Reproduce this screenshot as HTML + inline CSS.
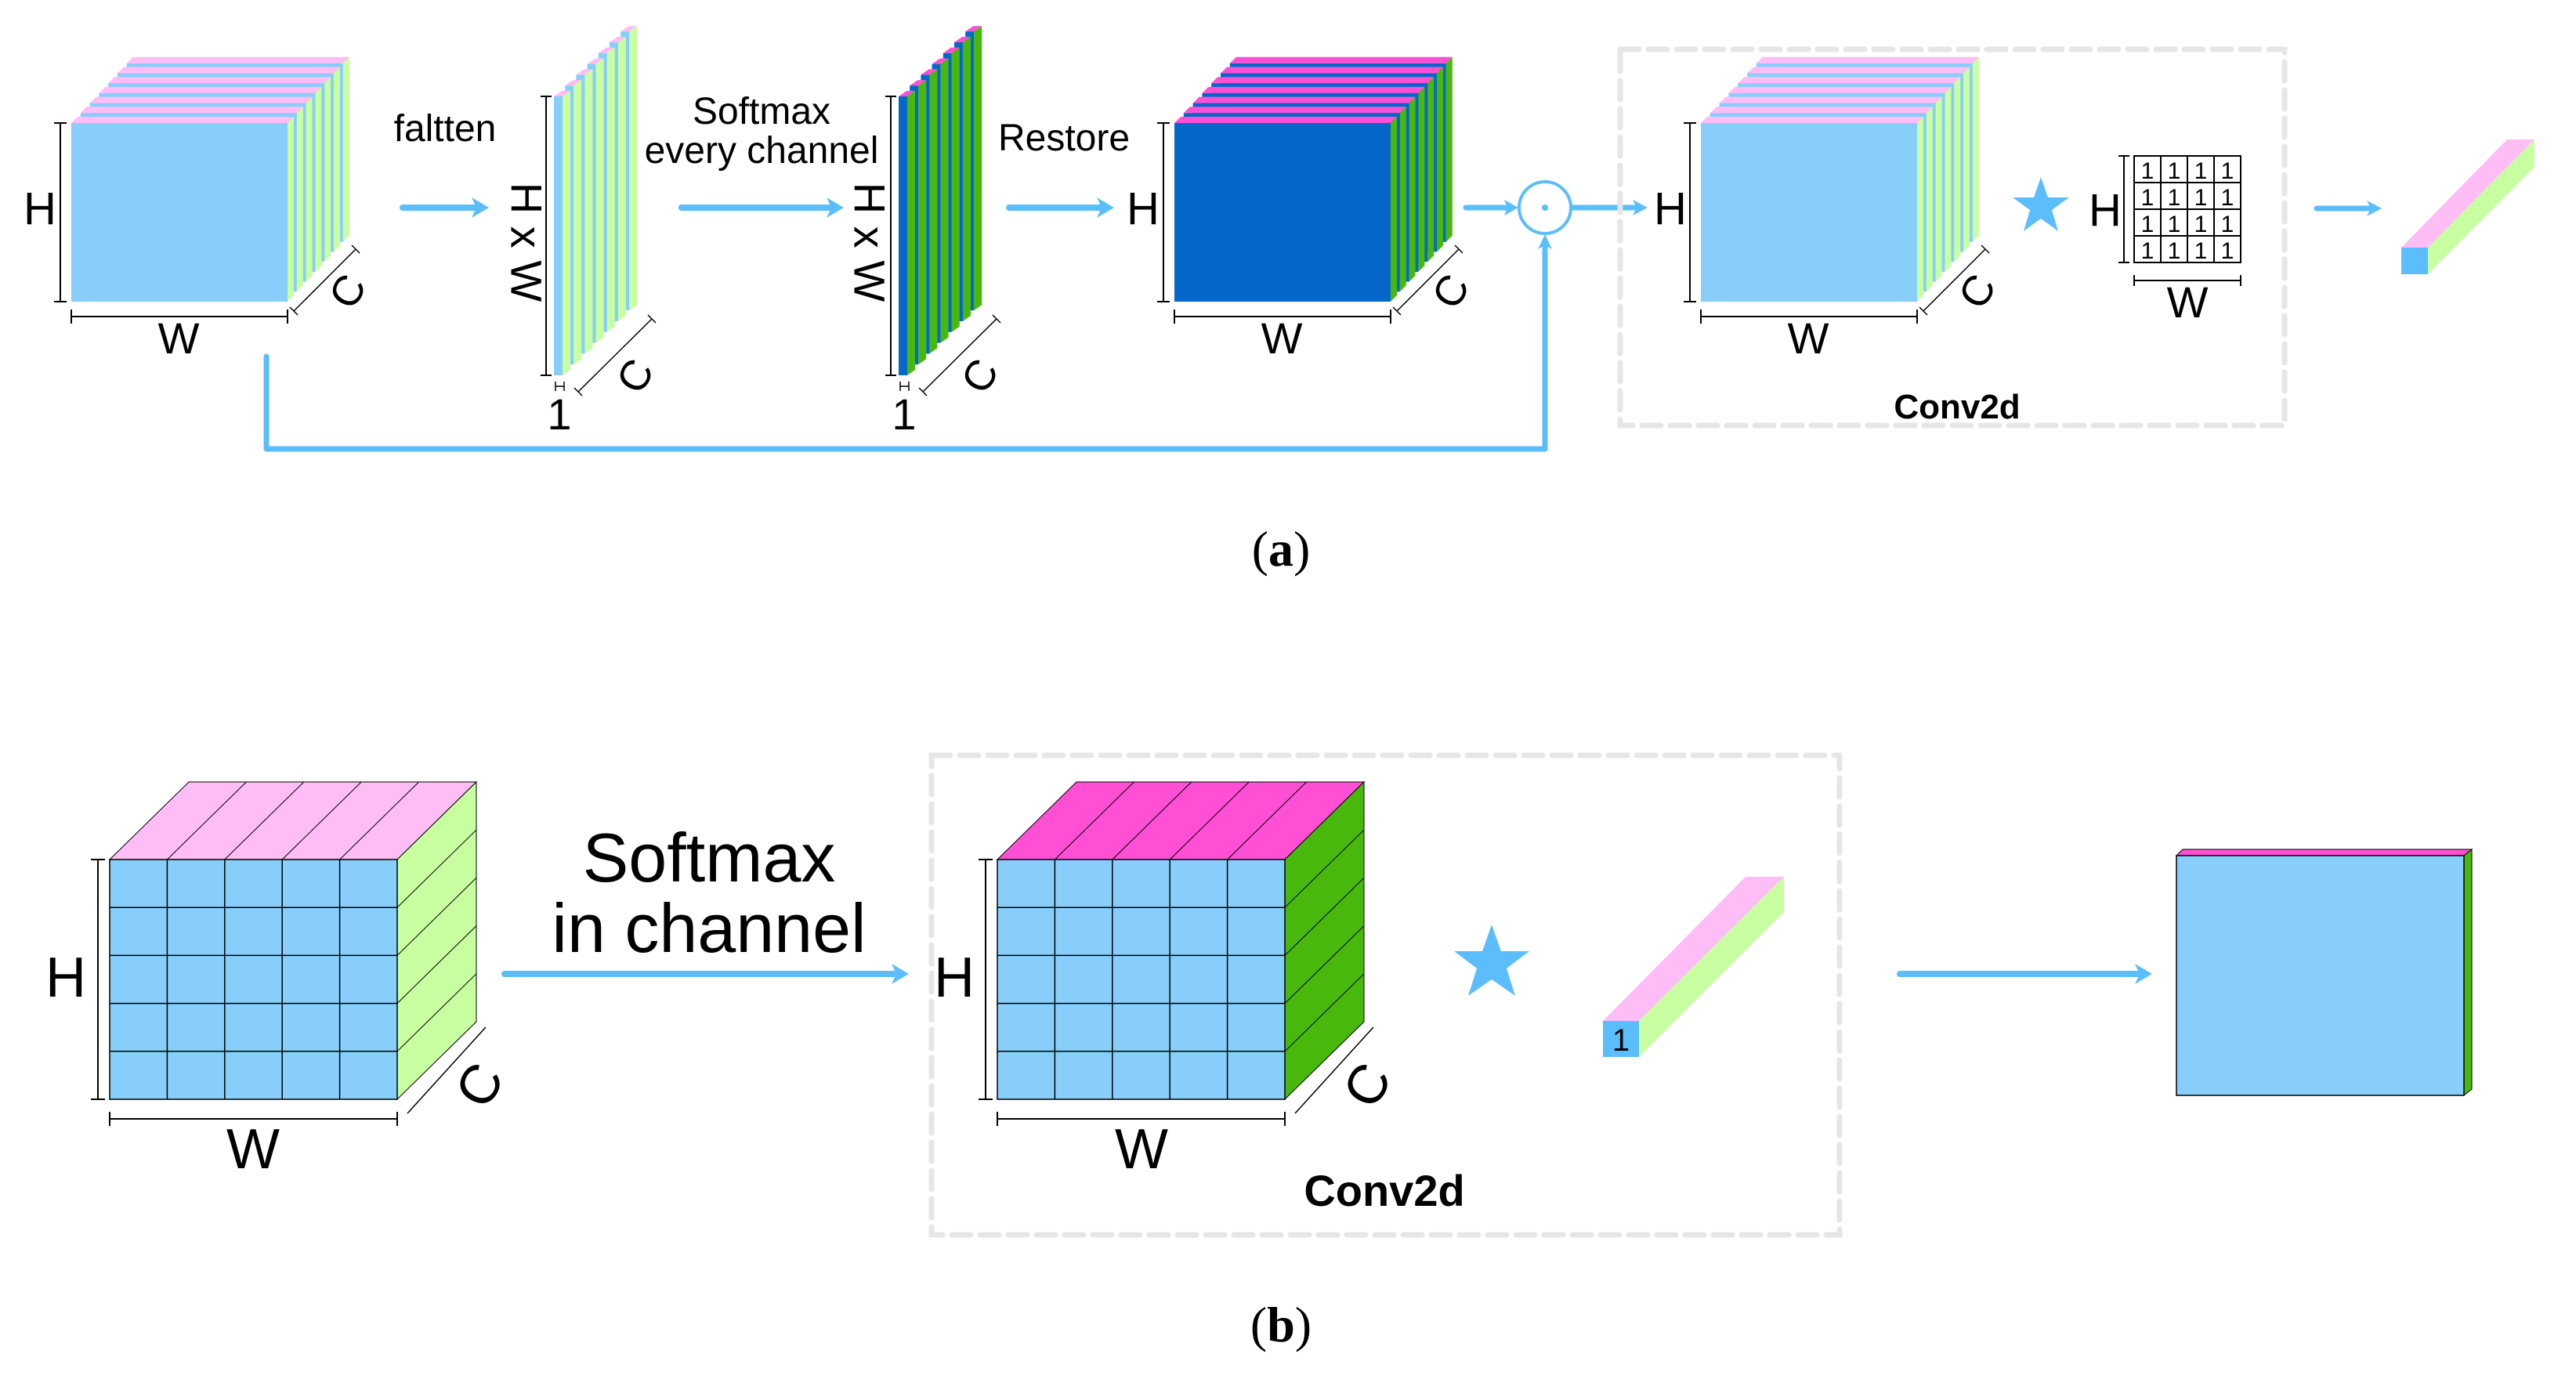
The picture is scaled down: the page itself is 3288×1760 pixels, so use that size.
<!DOCTYPE html>
<html><head><meta charset="utf-8"><style>
html,body{margin:0;padding:0;background:#fff;}
svg{display:block;}
text{font-family:"Liberation Sans",sans-serif;fill:#000;}
</style></head><body>
<svg width="3288" height="1760" viewBox="0 0 3288 1760" xmlns="http://www.w3.org/2000/svg">
<defs>
  <g id="slL">
    <polygon points="0,0 276,0 284,-8 8,-8" fill="#FFBDF5"/>
    <polygon points="276,0 284,-8 284,220 276,228" fill="#C8FFA0"/>
    <rect x="0" y="0" width="276" height="228" fill="#87CEFA"/>
  </g>
  <g id="slD">
    <polygon points="0,0 276,0 284,-8 8,-8" fill="#FF4FD4"/>
    <polygon points="276,0 284,-8 284,220 276,228" fill="#48B90C"/>
    <rect x="0" y="0" width="276" height="228" fill="#0568C8"/>
  </g>
  <g id="stL">
    <polygon points="0,0 11,0 21,-7 10,-7" fill="#FFBDF5"/>
    <polygon points="11,0 21,-7 21,349 11,356" fill="#C8FFA0"/>
    <rect x="0" y="0" width="11" height="356" fill="#87CEFA"/>
  </g>
  <g id="stD">
    <polygon points="0,0 11,0 21,-7 10,-7" fill="#FF4FD4"/>
    <polygon points="11,0 21,-7 21,349 11,356" fill="#48B90C"/>
    <rect x="0" y="0" width="11" height="356" fill="#0568C8"/>
  </g>
  <g id="cubeL">
    <use href="#slL" transform="translate(70.8,-76.2)"/>
    <use href="#slL" transform="translate(59,-63.5)"/>
    <use href="#slL" transform="translate(47.2,-50.8)"/>
    <use href="#slL" transform="translate(35.4,-38.1)"/>
    <use href="#slL" transform="translate(23.6,-25.4)"/>
    <use href="#slL" transform="translate(11.8,-12.7)"/>
    <use href="#slL"/>
  </g>
  <g id="cubeD">
    <use href="#slD" transform="translate(70.8,-76.2)"/>
    <use href="#slD" transform="translate(59,-63.5)"/>
    <use href="#slD" transform="translate(47.2,-50.8)"/>
    <use href="#slD" transform="translate(35.4,-38.1)"/>
    <use href="#slD" transform="translate(23.6,-25.4)"/>
    <use href="#slD" transform="translate(11.8,-12.7)"/>
    <use href="#slD"/>
  </g>
  <g id="stackL">
    <use href="#stL" transform="translate(85.2,-82.8)"/>
    <use href="#stL" transform="translate(71,-69)"/>
    <use href="#stL" transform="translate(56.8,-55.2)"/>
    <use href="#stL" transform="translate(42.6,-41.4)"/>
    <use href="#stL" transform="translate(28.4,-27.6)"/>
    <use href="#stL" transform="translate(14.2,-13.8)"/>
    <use href="#stL"/>
  </g>
  <g id="stackD">
    <use href="#stD" transform="translate(85.2,-82.8)"/>
    <use href="#stD" transform="translate(71,-69)"/>
    <use href="#stD" transform="translate(56.8,-55.2)"/>
    <use href="#stD" transform="translate(42.6,-41.4)"/>
    <use href="#stD" transform="translate(28.4,-27.6)"/>
    <use href="#stD" transform="translate(14.2,-13.8)"/>
    <use href="#stD"/>
  </g>
  <!-- dims for cube (relative to front origin 0,0) -->
  <g id="cubeDims" stroke="#000" stroke-width="2" fill="none">
    <line x1="-14" y1="0" x2="-14" y2="228"/>
    <line x1="-22" y1="0" x2="-6" y2="0"/>
    <line x1="-22" y1="228" x2="-6" y2="228"/>
    <line x1="0" y1="247" x2="276" y2="247"/>
    <line x1="0" y1="238" x2="0" y2="256"/>
    <line x1="276" y1="238" x2="276" y2="256"/>
    <line x1="284" y1="240" x2="363" y2="161" stroke-width="1.5"/>
    <line x1="279" y1="235" x2="289" y2="245" stroke-width="1.5"/>
    <line x1="358" y1="156" x2="368" y2="166" stroke-width="1.5"/>
  </g>
  <g id="stackDims" stroke="#000" stroke-width="2" fill="none">
    <line x1="-10" y1="0" x2="-10" y2="356"/>
    <line x1="-17" y1="0" x2="-3" y2="0"/>
    <line x1="-17" y1="356" x2="-3" y2="356"/>
    <line x1="2" y1="370" x2="13" y2="370" stroke-width="1.5"/>
    <line x1="2" y1="364" x2="2" y2="376" stroke-width="1.5"/>
    <line x1="13" y1="364" x2="13" y2="376" stroke-width="1.5"/>
    <line x1="31" y1="377" x2="125" y2="284" stroke-width="1.5"/>
    <line x1="26" y1="372" x2="36" y2="382" stroke-width="1.5"/>
    <line x1="120" y1="279" x2="130" y2="289" stroke-width="1.5"/>
  </g>
</defs>

<!-- ===== (a) ===== -->
<use href="#cubeL" transform="translate(91,157)"/>
<use href="#cubeDims" transform="translate(91,157)"/>
<text x="51" y="286" font-size="58" text-anchor="middle">H</text>
<text x="228" y="451" font-size="56" text-anchor="middle">W</text>
<text transform="translate(444,372) rotate(-60)" font-size="54" text-anchor="middle" dominant-baseline="central">C</text>

<!-- arrow 1 -->
<g fill="#5BBEFA" stroke="none">
  <line x1="514" y1="265" x2="610" y2="265" stroke="#5BBEFA" stroke-width="8" stroke-linecap="round"/>
  <polygon points="624,265 602,252 608,265 602,278"/>
</g>
<text x="568" y="180" font-size="48" text-anchor="middle">faltten</text>

<use href="#stackL" transform="translate(707,123)"/>
<use href="#stackDims" transform="translate(707,123)"/>
<text transform="translate(672,309) rotate(90)" font-size="56" text-anchor="middle" dominant-baseline="central">H x W</text>
<text x="714" y="548" font-size="56" text-anchor="middle">1</text>
<text transform="translate(811,480) rotate(-60)" font-size="54" text-anchor="middle" dominant-baseline="central">C</text>

<!-- arrow 2 -->
<line x1="870" y1="265" x2="1063" y2="265" stroke="#5BBEFA" stroke-width="8" stroke-linecap="round"/>
<polygon points="1077,265 1055,252 1061,265 1055,278" fill="#5BBEFA"/>
<text x="972" y="158" font-size="48" text-anchor="middle">Softmax</text>
<text x="972" y="208" font-size="48" text-anchor="middle">every channel</text>

<use href="#stackD" transform="translate(1147,123)"/>
<use href="#stackDims" transform="translate(1147,123)"/>
<text transform="translate(1110,309) rotate(90)" font-size="56" text-anchor="middle" dominant-baseline="central">H x W</text>
<text x="1154" y="548" font-size="56" text-anchor="middle">1</text>
<text transform="translate(1251,480) rotate(-60)" font-size="54" text-anchor="middle" dominant-baseline="central">C</text>

<!-- arrow 3 -->
<line x1="1288" y1="265" x2="1408" y2="265" stroke="#5BBEFA" stroke-width="8" stroke-linecap="round"/>
<polygon points="1422,265 1400,252 1406,265 1400,278" fill="#5BBEFA"/>
<text x="1358" y="192" font-size="48" text-anchor="middle">Restore</text>

<use href="#cubeD" transform="translate(1499,157)"/>
<use href="#cubeDims" transform="translate(1499,157)"/>
<text x="1459" y="286" font-size="58" text-anchor="middle">H</text>
<text x="1636" y="451" font-size="56" text-anchor="middle">W</text>
<text transform="translate(1852,372) rotate(-60)" font-size="54" text-anchor="middle" dominant-baseline="central">C</text>

<!-- circle and arrows -->
<line x1="1871" y1="265" x2="1925" y2="265" stroke="#5BBEFA" stroke-width="7" stroke-linecap="round"/>
<polygon points="1938,265 1920,255 1924,265 1920,275" fill="#5BBEFA"/>
<circle cx="1972" cy="265" r="33" fill="none" stroke="#5BBEFA" stroke-width="4"/>
<circle cx="1972" cy="265" r="4" fill="#5BBEFA"/>
<line x1="2006" y1="265" x2="2090" y2="265" stroke="#5BBEFA" stroke-width="7"/>
<polygon points="2103,265 2084,255 2089,265 2084,275" fill="#5BBEFA"/>
<polyline points="340,455 340,573 1972,573 1972,312" fill="none" stroke="#5BBEFA" stroke-width="7" stroke-linejoin="round" stroke-linecap="round"/>
<polygon points="1972,299 1963,318 1972,313 1981,318" fill="#5BBEFA"/>

<!-- dashed box a -->
<rect x="2068" y="63" width="848" height="480" fill="none" stroke="#E6E6E6" stroke-width="7" stroke-dasharray="24 12" stroke-linecap="round"/>
<use href="#cubeL" transform="translate(2171,157)"/>
<use href="#cubeDims" transform="translate(2171,157)"/>
<text x="2132" y="286" font-size="58" text-anchor="middle">H</text>
<text x="2308" y="451" font-size="56" text-anchor="middle">W</text>
<text transform="translate(2524,372) rotate(-60)" font-size="54" text-anchor="middle" dominant-baseline="central">C</text>

<!-- star a -->
<polygon points="2605,226 2614,252 2641,252 2619,268 2627,295 2605,279 2583,295 2591,268 2569,252 2596,252" fill="#5BBEFA"/>

<!-- kernel grid -->
<text x="2687" y="288" font-size="58" text-anchor="middle">H</text>
<g stroke="#000" stroke-width="2" fill="none">
  <line x1="2711" y1="199" x2="2711" y2="335"/>
  <line x1="2704" y1="199" x2="2718" y2="199"/>
  <line x1="2704" y1="335" x2="2718" y2="335"/>
  <rect x="2724" y="199" width="136" height="136"/>
  <line x1="2758" y1="199" x2="2758" y2="335"/>
  <line x1="2792" y1="199" x2="2792" y2="335"/>
  <line x1="2826" y1="199" x2="2826" y2="335"/>
  <line x1="2724" y1="233" x2="2860" y2="233"/>
  <line x1="2724" y1="267" x2="2860" y2="267"/>
  <line x1="2724" y1="301" x2="2860" y2="301"/>
  <line x1="2724" y1="358" x2="2860" y2="358"/>
  <line x1="2724" y1="351" x2="2724" y2="365"/>
  <line x1="2860" y1="351" x2="2860" y2="365"/>
</g>
<g font-size="30" text-anchor="middle">
  <text x="2741" y="228">1</text><text x="2775" y="228">1</text><text x="2809" y="228">1</text><text x="2843" y="228">1</text>
  <text x="2741" y="262">1</text><text x="2775" y="262">1</text><text x="2809" y="262">1</text><text x="2843" y="262">1</text>
  <text x="2741" y="296">1</text><text x="2775" y="296">1</text><text x="2809" y="296">1</text><text x="2843" y="296">1</text>
  <text x="2741" y="330">1</text><text x="2775" y="330">1</text><text x="2809" y="330">1</text><text x="2843" y="330">1</text>
</g>
<text x="2792" y="405" font-size="56" text-anchor="middle">W</text>
<text x="2498" y="534" font-size="44" font-weight="bold" text-anchor="middle">Conv2d</text>

<!-- arrow a last -->
<line x1="2957" y1="266" x2="3027" y2="266" stroke="#5BBEFA" stroke-width="7" stroke-linecap="round"/>
<polygon points="3040,266 3021,256 3026,266 3021,276" fill="#5BBEFA"/>
<!-- bar a -->
<polygon points="3065,316 3099,316 3235,178 3200,178" fill="#FFBDF5"/>
<polygon points="3099,316 3235,178 3235,213 3099,350" fill="#C8FFA0"/>
<rect x="3065" y="316" width="34" height="34" fill="#5BBEFA"/>

<text x="1635" y="722" font-size="64" text-anchor="middle" style="font-family:'Liberation Serif',serif">(<tspan font-weight="bold">a</tspan>)</text>

<!-- ===== (b) ===== -->
<!-- cube b1 -->
<polygon points="140,1097 507,1097 608,998 241,998" fill="#FFBDF5" stroke="#000" stroke-width="1"/>
<polygon points="507,1097 608,998 608,1304 507,1403" fill="#C8FFA0" stroke="#000" stroke-width="1"/>
<rect x="140" y="1097" width="367" height="306" fill="#87CEFA" stroke="#000" stroke-width="1.5"/>
<g stroke="#000" stroke-width="1.5">
  <line x1="213.4" y1="1097" x2="213.4" y2="1403"/>
  <line x1="286.8" y1="1097" x2="286.8" y2="1403"/>
  <line x1="360.2" y1="1097" x2="360.2" y2="1403"/>
  <line x1="433.6" y1="1097" x2="433.6" y2="1403"/>
  <line x1="140" y1="1158.2" x2="507" y2="1158.2"/>
  <line x1="140" y1="1219.4" x2="507" y2="1219.4"/>
  <line x1="140" y1="1280.6" x2="507" y2="1280.6"/>
  <line x1="140" y1="1341.8" x2="507" y2="1341.8"/>
</g>
<g stroke="#000" stroke-width="1">
  <line x1="213.4" y1="1097" x2="314.4" y2="998"/>
  <line x1="286.8" y1="1097" x2="387.8" y2="998"/>
  <line x1="360.2" y1="1097" x2="461.2" y2="998"/>
  <line x1="433.6" y1="1097" x2="534.6" y2="998"/>
  <line x1="507" y1="1158.2" x2="608" y2="1059.2"/>
  <line x1="507" y1="1219.4" x2="608" y2="1120.4"/>
  <line x1="507" y1="1280.6" x2="608" y2="1181.6"/>
  <line x1="507" y1="1341.8" x2="608" y2="1242.8"/>
</g>
<g stroke="#000" stroke-width="2" fill="none">
  <line x1="125" y1="1097" x2="125" y2="1403"/>
  <line x1="116" y1="1097" x2="134" y2="1097"/>
  <line x1="116" y1="1403" x2="134" y2="1403"/>
  <line x1="140" y1="1428" x2="507" y2="1428"/>
  <line x1="140" y1="1419" x2="140" y2="1437"/>
  <line x1="507" y1="1419" x2="507" y2="1437"/>
  <line x1="520" y1="1421" x2="620" y2="1311" stroke-width="1.5"/>
</g>
<text x="84" y="1272" font-size="72" text-anchor="middle">H</text>
<text x="323" y="1491" font-size="72" text-anchor="middle">W</text>
<text transform="translate(612,1385) rotate(-60)" font-size="70" text-anchor="middle" dominant-baseline="central">C</text>

<!-- arrow b1 -->
<line x1="644" y1="1243" x2="1143" y2="1243" stroke="#5BBEFA" stroke-width="8" stroke-linecap="round"/>
<polygon points="1160,1243 1138,1230 1144,1243 1138,1256" fill="#5BBEFA"/>
<text x="905" y="1125" font-size="88" text-anchor="middle">Softmax</text>
<text x="905" y="1215" font-size="88" text-anchor="middle">in channel</text>

<!-- dashed box b -->
<rect x="1189" y="964" width="1159" height="612" fill="none" stroke="#E6E6E6" stroke-width="7" stroke-dasharray="24 12" stroke-linecap="round"/>

<!-- cube b2 -->
<polygon points="1273,1097 1640,1097 1741,998 1374,998" fill="#FF4FD4" stroke="#000" stroke-width="1"/>
<polygon points="1640,1097 1741,998 1741,1304 1640,1403" fill="#48B90C" stroke="#000" stroke-width="1"/>
<rect x="1273" y="1097" width="367" height="306" fill="#87CEFA" stroke="#000" stroke-width="1.5"/>
<g stroke="#000" stroke-width="1.5">
  <line x1="1346.4" y1="1097" x2="1346.4" y2="1403"/>
  <line x1="1419.8" y1="1097" x2="1419.8" y2="1403"/>
  <line x1="1493.2" y1="1097" x2="1493.2" y2="1403"/>
  <line x1="1566.6" y1="1097" x2="1566.6" y2="1403"/>
  <line x1="1273" y1="1158.2" x2="1640" y2="1158.2"/>
  <line x1="1273" y1="1219.4" x2="1640" y2="1219.4"/>
  <line x1="1273" y1="1280.6" x2="1640" y2="1280.6"/>
  <line x1="1273" y1="1341.8" x2="1640" y2="1341.8"/>
</g>
<g stroke="#000" stroke-width="1">
  <line x1="1346.4" y1="1097" x2="1447.4" y2="998"/>
  <line x1="1419.8" y1="1097" x2="1520.8" y2="998"/>
  <line x1="1493.2" y1="1097" x2="1594.2" y2="998"/>
  <line x1="1566.6" y1="1097" x2="1667.6" y2="998"/>
  <line x1="1640" y1="1158.2" x2="1741" y2="1059.2"/>
  <line x1="1640" y1="1219.4" x2="1741" y2="1120.4"/>
  <line x1="1640" y1="1280.6" x2="1741" y2="1181.6"/>
  <line x1="1640" y1="1341.8" x2="1741" y2="1242.8"/>
</g>
<g stroke="#000" stroke-width="2" fill="none">
  <line x1="1258" y1="1097" x2="1258" y2="1403"/>
  <line x1="1249" y1="1097" x2="1267" y2="1097"/>
  <line x1="1249" y1="1403" x2="1267" y2="1403"/>
  <line x1="1273" y1="1428" x2="1640" y2="1428"/>
  <line x1="1273" y1="1419" x2="1273" y2="1437"/>
  <line x1="1640" y1="1419" x2="1640" y2="1437"/>
  <line x1="1653" y1="1421" x2="1753" y2="1311" stroke-width="1.5"/>
</g>
<text x="1218" y="1272" font-size="72" text-anchor="middle">H</text>
<text x="1457" y="1491" font-size="72" text-anchor="middle">W</text>
<text transform="translate(1745,1385) rotate(-60)" font-size="70" text-anchor="middle" dominant-baseline="central">C</text>

<!-- star b -->
<polygon points="1904,1180 1916,1214 1952,1214 1923,1236 1934,1271 1904,1250 1874,1271 1885,1236 1856,1214 1892,1214" fill="#5BBEFA"/>

<!-- bar b -->
<polygon points="2046,1303 2092,1303 2277,1119 2228,1119" fill="#FFBDF5"/>
<polygon points="2092,1303 2277,1119 2277,1164 2092,1349" fill="#C8FFA0"/>
<rect x="2046" y="1303" width="46" height="46" fill="#5BBEFA"/>
<text x="2069" y="1341" font-size="40" text-anchor="middle">1</text>

<text x="1767" y="1539" font-size="56" font-weight="bold" text-anchor="middle">Conv2d</text>

<!-- arrow b2 -->
<line x1="2425" y1="1243" x2="2730" y2="1243" stroke="#5BBEFA" stroke-width="8" stroke-linecap="round"/>
<polygon points="2747,1243 2725,1230 2731,1243 2725,1256" fill="#5BBEFA"/>

<!-- output b -->
<polygon points="2778,1092 3145,1092 3155,1084 2786,1084" fill="#FF4FD4" stroke="#000" stroke-width="1"/>
<polygon points="3145,1092 3155,1084 3155,1390 3145,1398" fill="#48B90C" stroke="#000" stroke-width="1"/>
<rect x="2778" y="1092" width="367" height="306" fill="#87CEFA" stroke="#000" stroke-width="1.5"/>

<text x="1635" y="1712" font-size="64" text-anchor="middle" style="font-family:'Liberation Serif',serif">(<tspan font-weight="bold">b</tspan>)</text>
</svg>
</body></html>
